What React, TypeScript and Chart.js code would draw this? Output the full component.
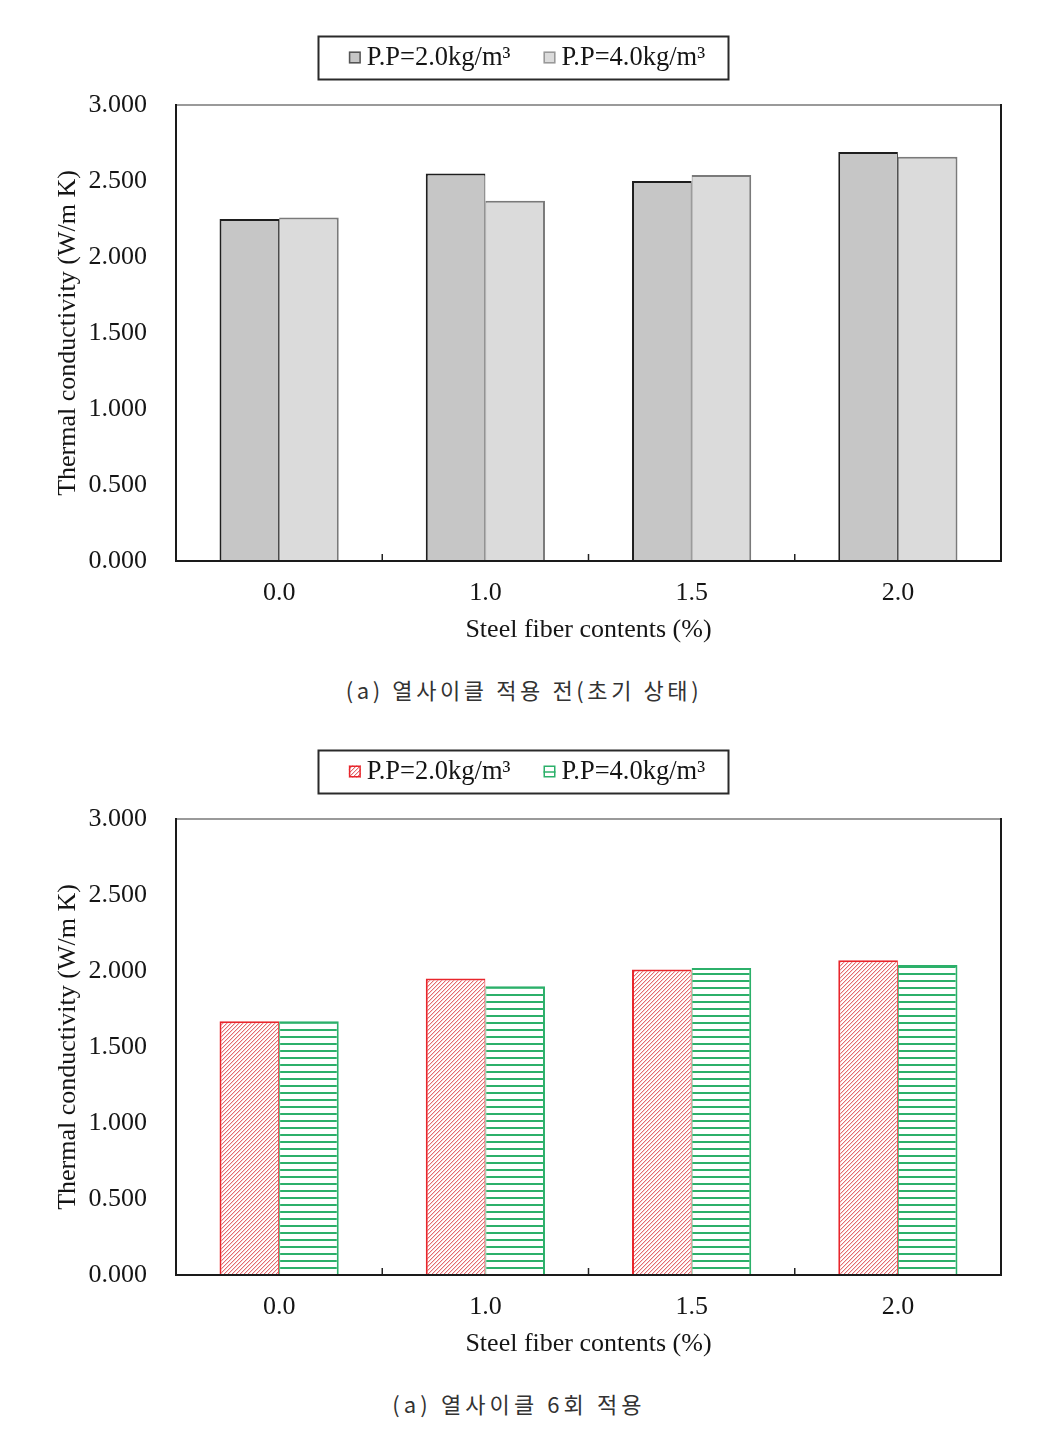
import React, { useEffect, useRef } from 'react';
import { Chart, registerables } from 'chart.js';

Chart.register(...registerables);

// ---------- data ----------
const categories = ['0.0', '1.0', '1.5', '2.0'];
const seriesLabels = ['P.P=2.0kg/m³', 'P.P=4.0kg/m³'];
const initialPP2 = [2.25, 2.55, 2.5, 2.69];
const initialPP4 = [2.26, 2.37, 2.54, 2.66];
const cycle6PP2 = [1.67, 1.95, 2.01, 2.07];
const cycle6PP4 = [1.67, 1.9, 2.02, 2.04];
const yTickLabels = ['0.000', '0.500', '1.000', '1.500', '2.000', '2.500', '3.000'];
const xTitle = 'Steel fiber contents (%)';
const yTitle = 'Thermal conductivity (W/m K)';
const captions = ['(a) 열사이클 적용 전(초기 상태)', '(a) 열사이클 6회 적용'];

const SERIF = '"Liberation Serif", "Times New Roman", serif';
const TEXT = '#151515';
const W = 1052;
const H = 660;

function makeHatch(main: string, soft: string) {
  const s = 4;
  const c = document.createElement('canvas');
  c.width = s;
  c.height = s;
  const g = c.getContext('2d')!;
  g.fillStyle = '#ffffff';
  g.fillRect(0, 0, s, s);
  for (let y = 0; y < s; y++) {
    for (let x = 0; x < s; x++) {
      const k = (x + y) % s;
      if (k === s - 1) {
        g.fillStyle = main;
        g.fillRect(x, y, 1, 1);
      } else if (k === 0) {
        g.fillStyle = soft;
        g.fillRect(x, y, 1, 1);
      }
    }
  }
  return g.createPattern(c, 'repeat')!;
}

function makeStripes(color: string) {
  const c = document.createElement('canvas');
  c.width = 8;
  c.height = 7;
  const g = c.getContext('2d')!;
  g.fillStyle = '#ffffff';
  g.fillRect(0, 0, 8, 7);
  g.fillStyle = color;
  g.fillRect(0, 0, 8, 2);
  return g.createPattern(c, 'repeat')!;
}

const framePlugin = {
  id: 'frame',
  afterDatasetsDraw(chart: any) {
    const { ctx, chartArea } = chart;
    const { left, right, top, bottom } = chartArea;
    const xs = chart.scales.x;
    ctx.save();
    // inward tick marks on category boundaries
    ctx.strokeStyle = '#222';
    ctx.lineWidth = 1.5;
    for (let i = 1; i < xs.ticks.length; i++) {
      const px = (xs.getPixelForTick(i - 1) + xs.getPixelForTick(i)) / 2;
      ctx.beginPath();
      ctx.moveTo(px, bottom);
      ctx.lineTo(px, bottom - 7);
      ctx.stroke();
    }
    // frame
    ctx.lineWidth = 2;
    ctx.strokeStyle = '#9a9a9a';
    ctx.beginPath();
    ctx.moveTo(left, top);
    ctx.lineTo(right, top);
    ctx.stroke();
    ctx.strokeStyle = '#1a1a1a';
    ctx.beginPath();
    ctx.moveTo(left, top - 1);
    ctx.lineTo(left, bottom);
    ctx.lineTo(right, bottom);
    ctx.lineTo(right, top - 1);
    ctx.stroke();
    ctx.restore();
  },
};

const boxLegendPlugin = {
  id: 'boxLegend',
  afterDraw(chart: any) {
    const { ctx } = chart;
    const ds = chart.data.datasets;
    ctx.save();
    ctx.font = `26.5px ${SERIF}`;
    const icon = 12;
    const iconGap = 6;
    const itemGap = 33;
    const widths = ds.map((d: any) => ctx.measureText(d.label).width);
    let total = 0;
    widths.forEach((w: number, i: number) => {
      total += icon + iconGap + w + (i > 0 ? itemGap : 0);
    });
    const cx = chart.width / 2 + 1;
    const cy = 57.5;
    let x = cx - total / 2;
    // box
    ctx.strokeStyle = '#2a2a2a';
    ctx.lineWidth = 2;
    ctx.strokeRect(Math.round(x - 31) + 0.5, 36.5, Math.round(total + 54), 43);
    ds.forEach((d: any, i: number) => {
      if (i > 0) x += itemGap;
      ctx.fillStyle = d.legendFill || d.backgroundColor;
      ctx.fillRect(x, cy - 6, icon, icon);
      ctx.strokeStyle = d.legendBorder || d.borderColor;
      ctx.lineWidth = 1.5;
      ctx.strokeRect(x + 0.75, cy - 5.25, icon - 1.5, icon - 1.5);
      if (d.legendMid) {
        ctx.beginPath();
        ctx.moveTo(x, cy + 0.5);
        ctx.lineTo(x + icon, cy + 0.5);
        ctx.stroke();
      }
      x += icon + iconGap;
      ctx.fillStyle = TEXT;
      ctx.textBaseline = 'middle';
      ctx.textAlign = 'left';
      ctx.fillText(d.label, x, cy + 1);
      x += widths[i];
    });
    ctx.restore();
  },
};

function buildOptions() {
  const font = { family: SERIF, size: 26 };
  return {
    responsive: false,
    animation: false as const,
    layout: { padding: { left: 49, right: 51, top: 105, bottom: 0 } },
    plugins: { legend: { display: false }, tooltip: { enabled: false } },
    datasets: { bar: { categoryPercentage: 0.578, barPercentage: 1 } },
    scales: {
      x: {
        ticks: { padding: 17, color: TEXT, font },
        grid: { display: false, drawTicks: false },
        border: { display: false },
        title: {
          display: true,
          text: xTitle,
          color: TEXT,
          font,
          padding: { top: 4, bottom: 14 },
        },
        afterFit: (s: any) => {
          s.height = 99;
        },
      },
      y: {
        min: 0,
        max: 3,
        ticks: {
          stepSize: 0.5,
          padding: 29,
          color: TEXT,
          font,
          callback: (v: any) => yTickLabels[Math.round(Number(v) / 0.5)],
        },
        grid: { display: false, drawTicks: false },
        border: { display: false },
        title: {
          display: true,
          text: yTitle,
          color: TEXT,
          font,
          padding: { top: 4, bottom: 0 },
        },
        afterFit: (s: any) => {
          s.width = 127;
        },
      },
    },
  };
}

function ChartPanel({ variant }: { variant: 'initial' | 'cycle6' }) {
  const ref = useRef<HTMLCanvasElement>(null);
  useEffect(() => {
    if (!ref.current) return;
    let datasets: any[];
    if (variant === 'initial') {
      datasets = [
        {
          label: seriesLabels[0],
          data: initialPP2,
          backgroundColor: '#c6c6c6',
          borderColor: '#1e1e1e',
          borderWidth: { top: 2, left: 2, right: 1, bottom: 0 },
          legendBorder: '#555555',
        },
        {
          label: seriesLabels[1],
          data: initialPP4,
          backgroundColor: '#dbdbdb',
          borderColor: '#7a7a7a',
          borderWidth: { top: 2, left: 1, right: 2, bottom: 0 },
          legendBorder: '#999999',
        },
      ];
    } else {
      const red = '#e8262c';
      const green = '#2cb06a';
      datasets = [
        {
          label: seriesLabels[0],
          data: cycle6PP2,
          backgroundColor: makeHatch('#e46a6e', '#f7d2d3'),
          borderColor: red,
          borderWidth: { top: 2, left: 2, right: 1, bottom: 0 },
        },
        {
          label: seriesLabels[1],
          data: cycle6PP4,
          backgroundColor: makeStripes(green),
          legendFill: '#ffffff',
          legendMid: true,
          borderColor: green,
          borderWidth: { top: 2, left: 1, right: 2, bottom: 0 },
        },
      ];
    }
    const chart = new Chart(ref.current, {
      type: 'bar',
      data: { labels: categories, datasets },
      options: buildOptions() as any,
      plugins: [framePlugin, boxLegendPlugin],
    });
    return () => chart.destroy();
  }, [variant]);
  return (
    <canvas
      ref={ref}
      width={W}
      height={H}
      style={{ display: 'block', width: W, height: H }}
    />
  );
}

const captionStyle: React.CSSProperties = {
  position: 'absolute',
  left: 0,
  textAlign: 'center',
  fontFamily: '"Noto Sans CJK KR", "Noto Sans", sans-serif',
  fontSize: 22,
  lineHeight: '28px',
  letterSpacing: '3.6px',
  color: '#333333',
  whiteSpace: 'pre',
};

export default function App() {
  return (
    <div
      style={{
        position: 'absolute',
        left: 0,
        top: 0,
        width: W,
        height: 1429,
        background: '#ffffff',
        overflow: 'hidden',
      }}
    >
      <div style={{ position: 'absolute', left: 0, top: 0 }}>
        <ChartPanel variant="initial" />
      </div>
      <div style={{ ...captionStyle, top: 675, width: 1048 }}>{captions[0]}</div>
      <div style={{ position: 'absolute', left: 0, top: 714 }}>
        <ChartPanel variant="cycle6" />
      </div>
      <div style={{ ...captionStyle, top: 1389, width: 1038, letterSpacing: '4.1px' }}>
        {captions[1]}
      </div>
    </div>
  );
}
